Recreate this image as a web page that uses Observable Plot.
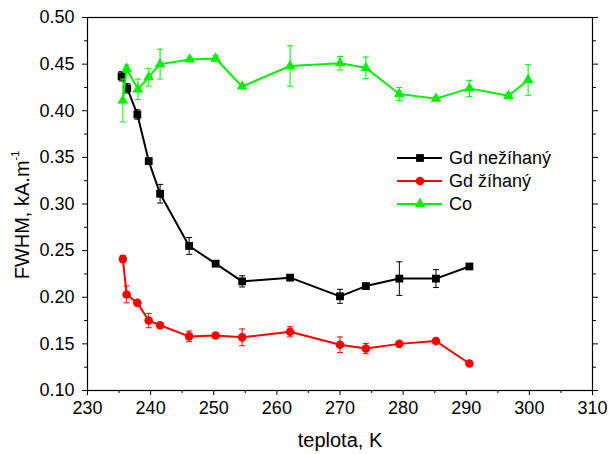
<!DOCTYPE html>
<html>
<head>
<meta charset="utf-8">
<script src="https://cdn.jsdelivr.net/npm/d3@7"></script>
<script src="https://cdn.jsdelivr.net/npm/@observablehq/plot@0.6"></script>
<style>
  html, body { margin: 0; padding: 0; background: #fff; }
  #chart { width: 609px; height: 454px; }
</style>
</head>
<body>
<div id="chart"></div>
<script>
// Gd nežíhaný (black squares)
const T_gdN = [235.4, 236.3, 237.9, 239.7, 241.5, 246.1, 250.3, 254.5, 262.1, 270.0, 274.1, 279.4, 285.2, 290.5];
const v_gdN = [0.437, 0.424, 0.396, 0.346, 0.311, 0.255, 0.236, 0.217, 0.221, 0.201, 0.212, 0.220, 0.220, 0.233];
const e_gdN = [0.005, 0.005, 0.005, 0.003, 0.010, 0.009, 0.002, 0.006, 0.002, 0.0075, 0.002, 0.018, 0.0096, 0.002];
// Gd žíhaný (red circles)
const T_gdZ = [235.6, 236.2, 237.9, 239.7, 241.5, 246.1, 250.3, 254.5, 262.1, 270.0, 274.1, 279.4, 285.2, 290.5];
const v_gdZ = [0.241, 0.203, 0.194, 0.175, 0.170, 0.158, 0.159, 0.157, 0.163, 0.149, 0.145, 0.150, 0.153, 0.129];
const e_gdZ = [0.004, 0.009, 0.002, 0.0077, 0.003, 0.0057, 0.002, 0.009, 0.0054, 0.0084, 0.0055, 0.002, 0.002, 0.002];
// Co (green triangles)
const T_co = [235.6, 236.2, 238.0, 239.7, 241.5, 246.2, 250.3, 254.5, 262.1, 270.0, 274.1, 279.4, 285.2, 290.5, 296.7, 299.8];
const v_co = [0.411, 0.445, 0.423, 0.436, 0.450, 0.455, 0.456, 0.426, 0.448, 0.451, 0.446, 0.418, 0.413, 0.424, 0.416, 0.433];
const e_co = [0.023, 0.004, 0.011, 0.0095, 0.016, 0.002, 0.003, 0.002, 0.0216, 0.0073, 0.0116, 0.007, 0.002, 0.0086, 0.003, 0.0164];

const seriesNames = ["Gd nežíhaný", "Gd žíhaný", "Co"];
const seriesColors = ["#000000", "#ff0000", "#00f000"];
const seriesSymbols = ["square", "circle", "triangle"];

const xTicks = [230, 240, 250, 260, 270, 280, 290, 300, 310];
const yTicks = [0.10, 0.15, 0.20, 0.25, 0.30, 0.35, 0.40, 0.45, 0.50];
const xMinor = [235, 245, 255, 265, 275, 285, 295, 305];
const yMinor = [0.125, 0.175, 0.225, 0.275, 0.325, 0.375, 0.425, 0.475];
const xLabel = "teplota, K";
const yLabelMain = "FWHM, kA.m";
const yLabelSup = "-1";

const mk = (T, v, e, s) => T.map((t, i) => ({T: t, v: v[i], e: e[i], s}));
const sets = [mk(T_gdN, v_gdN, e_gdN, 0), mk(T_gdZ, v_gdZ, e_gdZ, 1), mk(T_co, v_co, e_co, 2)];

const capSymbol = { draw(ctx, size) { const w = Math.sqrt(size); ctx.moveTo(-w, 0); ctx.lineTo(w, 0); } };
const noLabel = () => "";
const radii = [4.4, 4.3, 4.0];

const font = "Liberation Sans, Arial, sans-serif";
const marks = [];
sets.forEach((d, k) => {
  const c = seriesColors[k];
  marks.push(Plot.line(d, {x: "T", y: "v", stroke: c, strokeWidth: 2}));
  marks.push(Plot.ruleX(d, {x: "T", y1: r => r.v - r.e, y2: r => r.v + r.e, stroke: c, strokeWidth: 1}));
  marks.push(Plot.dot(d, {x: "T", y: r => r.v - r.e, symbol: capSymbol, r: 1.7, stroke: c, strokeWidth: 1, fill: "none"}));
  marks.push(Plot.dot(d, {x: "T", y: r => r.v + r.e, symbol: capSymbol, r: 1.7, stroke: c, strokeWidth: 1, fill: "none"}));
  marks.push(Plot.dot(d, {x: "T", y: "v", symbol: seriesSymbols[k], r: radii[k], fill: c, stroke: "none"}));
});

const plot = Plot.plot({
  width: 609,
  height: 454,
  marginLeft: 87,
  marginRight: 17,
  marginTop: 17,
  marginBottom: 64,
  style: {fontFamily: font, fontSize: "18px", color: "#000", background: "#fff"},
  x: {domain: [230, 310]},
  y: {domain: [0.10, 0.50]},
  marks: [
    ...marks,
    Plot.frame({stroke: "#000", strokeWidth: 1.2}),
    Plot.axisX({ticks: xTicks, tickSize: 5, tickPadding: 6, tickFormat: d3.format("d"), label: null, fontSize: 18}),
    Plot.axisX({ticks: xMinor, tickSize: 3, tickFormat: noLabel, label: null}),
    Plot.axisY({ticks: yTicks, tickSize: 5, tickPadding: 8, tickFormat: d3.format(".2f"), label: null, fontSize: 18}),
    Plot.axisY({ticks: yMinor, tickSize: 3, tickFormat: noLabel, label: null}),
    Plot.axisY({anchor: "right", ticks: yTicks, tickSize: 5, tickFormat: noLabel, label: null}),
    Plot.axisY({anchor: "right", ticks: yMinor, tickSize: 3, tickFormat: noLabel, label: null}),
    Plot.text([xLabel], {frameAnchor: "bottom", dy: 50, textAnchor: "middle", lineAnchor: "middle", fontSize: 20, fill: "#000"})
  ]
});

const svg = d3.select(plot);

// y-axis title with a small superscript
const yT = svg.append("text")
  .attr("transform", "translate(29,215) rotate(-90)")
  .attr("text-anchor", "middle")
  .attr("font-family", font)
  .attr("font-size", 20)
  .attr("fill", "#000");
yT.append("tspan").text(yLabelMain);
yT.append("tspan").attr("font-size", 11).attr("dy", -10).text(yLabelSup);

// legend inside the plot area
const lg = svg.append("g").attr("font-family", font).attr("font-size", 18).attr("text-anchor", "start");
seriesNames.forEach((name, k) => {
  const y = 158 + k * 23;
  const c = seriesColors[k];
  lg.append("line").attr("x1", 397).attr("x2", 442).attr("y1", y).attr("y2", y).attr("stroke", c).attr("stroke-width", 2);
  const sym = k === 0 ? d3.symbolSquare : k === 1 ? d3.symbolCircle : d3.symbolTriangle;
  const r = radii[k];
  lg.append("path").attr("d", d3.symbol(sym, Math.PI * r * r)()).attr("transform", `translate(420,${y})`).attr("fill", c);
  lg.append("text").attr("x", 449).attr("y", y).attr("dy", "0.35em").attr("fill", "#000").text(name);
});

document.getElementById("chart").appendChild(plot);
</script>
</body>
</html>
